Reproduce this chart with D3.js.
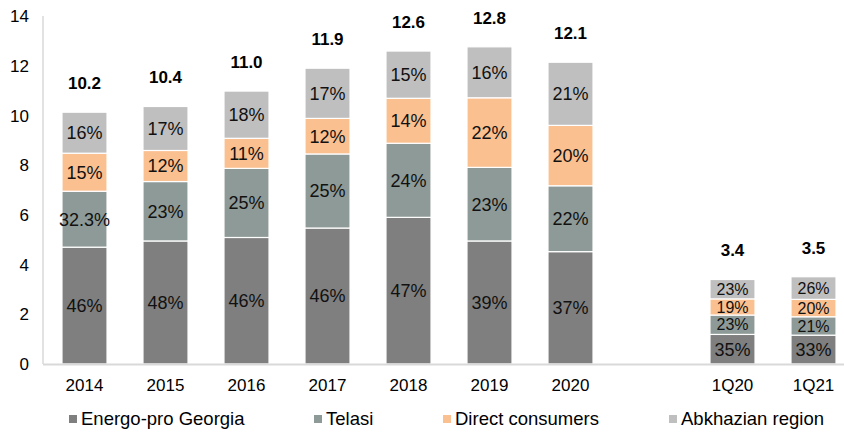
<!DOCTYPE html>
<html>
<head>
<meta charset="utf-8">
<script src="https://cdn.jsdelivr.net/npm/d3@7"></script>
<style>
  body { margin: 0; background: #fff; }
  svg text { font-family: "Liberation Sans", Arial, sans-serif; }
</style>
</head>
<body>
<div id="chart"></div>
<script>
// data (TWh)
var categories = ["2014", "2015", "2016", "2017", "2018", "2019", "2020", "1Q20", "1Q21"];
var totals = [10.2, 10.4, 11.0, 11.9, 12.6, 12.8, 12.1, 3.4, 3.5];
var energoPro = [4.70, 4.95, 5.09, 5.47, 5.90, 4.95, 4.52, 1.19, 1.16];
var telasi = [2.25, 2.39, 2.78, 2.98, 2.98, 2.96, 2.65, 0.78, 0.74];
var direct = [1.53, 1.25, 1.21, 1.43, 1.81, 2.80, 2.43, 0.65, 0.70];
var abkhazia = [1.65, 1.77, 1.90, 2.02, 1.90, 2.05, 2.54, 0.78, 0.91];
var energoProLabels = ["46%", "48%", "46%", "46%", "47%", "39%", "37%", "35%", "33%"];
var telasiLabels = ["32.3%", "23%", "25%", "25%", "24%", "23%", "22%", "23%", "21%"];
var directLabels = ["15%", "12%", "11%", "12%", "14%", "22%", "20%", "19%", "20%"];
var abkhaziaLabels = ["16%", "17%", "18%", "17%", "15%", "16%", "21%", "23%", "26%"];
var yTicks = [0, 2, 4, 6, 8, 10, 12, 14];

var series = [
  {name: "Energo-pro Georgia", values: energoPro, labels: energoProLabels, color: "#7f7f7f"},
  {name: "Telasi", values: telasi, labels: telasiLabels, color: "#8e9a97"},
  {name: "Direct consumers", values: direct, labels: directLabels, color: "#fac090"},
  {name: "Abkhazian region", values: abkhazia, labels: abkhaziaLabels, color: "#bfbfbf"}
];

var width = 844, height = 433;

var svg = d3.select("#chart")
  .append("svg")
    .attr("width", width)
    .attr("height", height);

// blank slot between the yearly and quarterly bars
var domain = categories.slice(0, 7).concat([" "]).concat(categories.slice(7));

var x = d3.scaleBand()
  .domain(domain)
  .range([44, 854])
  .paddingInner(0.444)
  .paddingOuter(0.222);

var y = d3.scaleLinear()
  .domain([0, 14])
  .range([364, 16]);

// vertical axis line
svg.append("line")
  .attr("x1", 43).attr("x2", 43)
  .attr("y1", y(14)).attr("y2", y(0))
  .style("stroke", "#d9d9d9").style("stroke-width", 1.5);

// stacked bars
var stacked = categories.map(function(c, i) {
  var base = 0;
  return series.map(function(s) {
    var seg = {cat: c, y0: base, y1: base + s.values[i], label: s.labels[i], color: s.color};
    base += s.values[i];
    return seg;
  });
});

var groups = svg.selectAll("g.bar")
  .data(stacked)
  .enter()
  .append("g")
  .attr("class", "bar");

groups.selectAll("rect")
  .data(function(d) { return d; })
  .enter()
  .append("rect")
  .attr("x", function(d) { return x(d.cat); })
  .attr("width", x.bandwidth())
  .attr("y", function(d) { return y(d.y1); })
  .attr("height", function(d) { return y(d.y0) - y(d.y1); })
  .style("fill", function(d) { return d.color; })
  .style("stroke", "#fff")
  .style("stroke-width", 1.2);

// segment labels, a bit smaller where the segment is thin
groups.selectAll("text")
  .data(function(d) { return d; })
  .enter()
  .append("text")
  .attr("x", function(d) { return x(d.cat) + x.bandwidth() / 2; })
  .attr("y", function(d) { return (y(d.y0) + y(d.y1)) / 2; })
  .attr("dy", "0.36em")
  .attr("text-anchor", "middle")
  .style("font-size", function(d) { return (y(d.y0) - y(d.y1)) < 24 ? "16px" : "18px"; })
  .style("fill", "#111")
  .text(function(d) { return d.label; });

// totals above bars
svg.selectAll("text.total")
  .data(categories)
  .enter()
  .append("text")
  .attr("class", "total")
  .attr("x", function(d) { return x(d) + x.bandwidth() / 2; })
  .attr("y", function(d, i) {
    var top = energoPro[i] + telasi[i] + direct[i] + abkhazia[i];
    return y(top) - 23;
  })
  .attr("text-anchor", "middle")
  .style("font-size", "17px")
  .style("font-weight", "bold")
  .style("fill", "#000")
  .text(function(d, i) { return totals[i].toFixed(1); });

// horizontal axis line
svg.append("line")
  .attr("x1", 43).attr("x2", width)
  .attr("y1", y(0) + 0.5).attr("y2", y(0) + 0.5)
  .style("stroke", "#d9d9d9").style("stroke-width", 2);

// y tick labels
svg.selectAll("text.ytick")
  .data(yTicks)
  .enter()
  .append("text")
  .attr("class", "ytick")
  .attr("x", 29)
  .attr("y", function(d) { return y(d); })
  .attr("dy", "0.36em")
  .attr("text-anchor", "end")
  .style("font-size", "17px")
  .style("fill", "#000")
  .text(function(d) { return d; });

// x tick labels
svg.selectAll("text.xtick")
  .data(categories)
  .enter()
  .append("text")
  .attr("class", "xtick")
  .attr("x", function(d) { return x(d) + x.bandwidth() / 2; })
  .attr("y", 391)
  .attr("text-anchor", "middle")
  .style("font-size", "17px")
  .style("fill", "#000")
  .text(function(d) { return d; });

// legend
var legendX = [69, 314, 443, 669];
var legend = svg.selectAll("g.legend")
  .data(series)
  .enter()
  .append("g")
  .attr("class", "legend")
  .attr("transform", function(d, i) { return "translate(" + legendX[i] + ",419)"; });

legend.append("rect")
  .attr("x", 0).attr("y", -4)
  .attr("width", 8).attr("height", 8)
  .style("fill", function(d) { return d.color; });

legend.append("text")
  .attr("x", 12)
  .attr("y", 6)
  .style("font-size", "18.5px")
  .style("fill", "#000")
  .text(function(d) { return d.name; });
</script>
</body>
</html>
